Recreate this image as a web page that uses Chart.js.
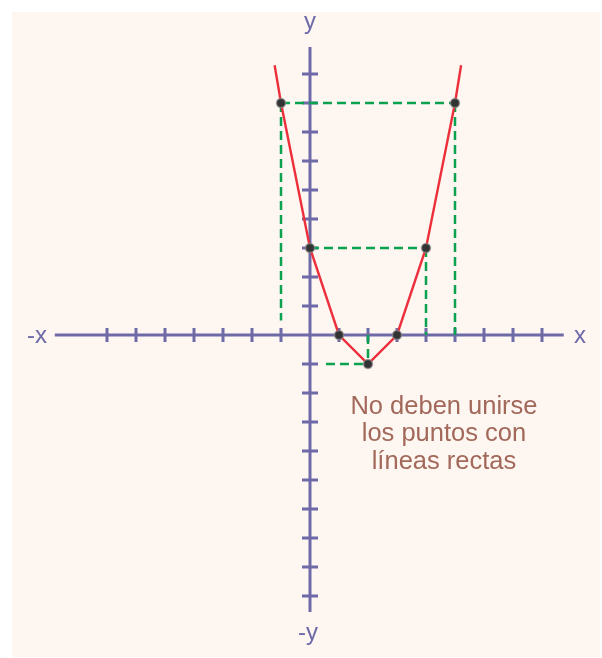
<!DOCTYPE html>
<html>
<head>
<meta charset="utf-8">
<script src="https://cdn.jsdelivr.net/npm/chart.js@4.4.1/dist/chart.umd.min.js"></script>
<style>
  html, body { margin: 0; padding: 0; background: #ffffff; }
  canvas { display: block; }
</style>
</head>
<body>
<canvas id="graf" width="602" height="658"></canvas>
<script>
// Points of y = x^2 - 4x + 3 joined with straight segments
var curveX = [-1.22, -1, 0, 1, 2, 3, 4, 5, 5.21];
var curveY = [9.3, 8, 3, 0, -1, 0, 3, 8, 9.3];
var dotRadius = [0, 4.5, 4.5, 4.5, 4.5, 4.5, 4.5, 4.5, 0];

// Dashed guide lines, [x1, y1, x2, y2]
var guides = [
  [-1, 8, 5, 8],
  [-1, 8, -1, 0.5],
  [5, 8, 5, 0],
  [0, 3, 4, 3],
  [4, 3, 4, 0],
  [0.55, -1, 2, -1],
  [2, 0, 2, -1]
];

// Axis ticks and extents
var xTicks = [-7, -6, -5, -4, -3, -2, -1, 1, 2, 3, 4, 5, 6, 7, 8];
var yTicks = [-9, -8, -7, -6, -5, -4, -3, -2, -1, 1, 2, 3, 4, 5, 6, 7, 8, 9];
var xAxisRange = [-8.8, 8.75];
var yAxisRange = [-9.55, 9.93];

var noteLines = ["No deben unirse", "los puntos con", "líneas rectas"];

var unit = 29; // pixels per unit
var axisColor = "#6e6aa8";

var datasets = [{
  data: curveX.map(function(x, i) { return { x: x, y: curveY[i] }; }),
  showLine: true,
  borderColor: "#ec2f3a",
  borderWidth: 2.4,
  pointRadius: dotRadius,
  pointBackgroundColor: "#333333",
  pointBorderColor: "rgba(140,140,140,0.7)",
  pointBorderWidth: 1.5
}];

guides.forEach(function(g) {
  datasets.push({
    data: [{ x: g[0], y: g[1] }, { x: g[2], y: g[3] }],
    showLine: true,
    borderColor: "#0aa24e",
    borderWidth: 2.5,
    borderDash: [9, 5],
    pointRadius: 0
  });
});

var panelPlugin = {
  id: "panel",
  beforeDraw: function(chart) {
    var ctx = chart.ctx;
    ctx.save();
    ctx.fillStyle = "#fdf6f1";
    ctx.fillRect(12, 12, 588, 645);
    ctx.restore();
  }
};

var axesPlugin = {
  id: "axes",
  beforeDatasetsDraw: function(chart) {
    var ctx = chart.ctx;
    var sx = chart.scales.x, sy = chart.scales.y;
    var x0 = sx.getPixelForValue(0), y0 = sy.getPixelForValue(0);
    ctx.save();
    ctx.strokeStyle = axisColor;
    ctx.lineWidth = 3;
    ctx.beginPath();
    ctx.moveTo(sx.getPixelForValue(xAxisRange[0]), y0);
    ctx.lineTo(sx.getPixelForValue(xAxisRange[1]), y0);
    ctx.moveTo(x0, sy.getPixelForValue(yAxisRange[0]));
    ctx.lineTo(x0, sy.getPixelForValue(yAxisRange[1]));
    xTicks.forEach(function(t) {
      var px = sx.getPixelForValue(t);
      ctx.moveTo(px, y0 - 7);
      ctx.lineTo(px, y0 + 7);
    });
    yTicks.forEach(function(t) {
      var py = sy.getPixelForValue(t);
      ctx.moveTo(x0 - 8, py);
      ctx.lineTo(x0 + 8, py);
    });
    ctx.stroke();

    // axis names
    ctx.fillStyle = axisColor;
    ctx.font = "24px 'Liberation Sans', Arial, sans-serif";
    ctx.textAlign = "center";
    ctx.textBaseline = "middle";
    ctx.fillText("-x", 37, y0 + 1);
    ctx.fillText("x", 580, y0 + 1);
    ctx.fillText("y", x0, 22);
    ctx.fillText("-y", x0 - 2, 633);
    ctx.restore();
  },
  afterDraw: function(chart) {
    var ctx = chart.ctx;
    var sx = chart.scales.x, sy = chart.scales.y;
    ctx.save();
    ctx.fillStyle = "#a2685a";
    ctx.font = "25.5px 'Liberation Sans', Arial, sans-serif";
    ctx.textAlign = "center";
    ctx.textBaseline = "alphabetic";
    noteLines.forEach(function(line, i) {
      ctx.fillText(line, sx.getPixelForValue(4.62), sy.getPixelForValue(-2.72) + i * 27.5);
    });
    ctx.restore();
  }
};

new Chart(document.getElementById("graf"), {
  type: "scatter",
  data: { datasets: datasets },
  options: {
    responsive: false,
    animation: false,
    layout: { padding: 0 },
    plugins: { legend: { display: false }, tooltip: { enabled: false } },
    scales: {
      x: { type: "linear", display: false, min: -310 / unit, max: 292 / unit },
      y: { type: "linear", display: false, min: -323 / unit, max: 335 / unit }
    }
  },
  plugins: [panelPlugin, axesPlugin]
});
</script>
</body>
</html>
